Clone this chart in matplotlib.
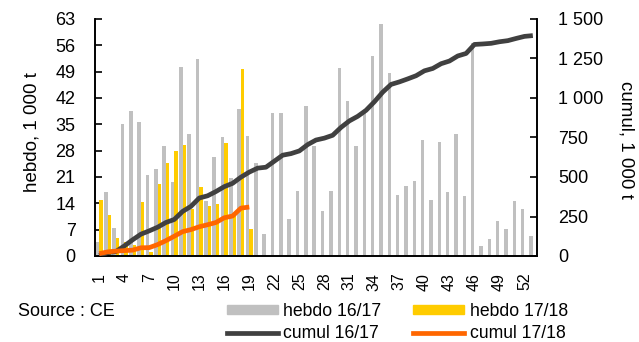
# -*- coding: utf-8 -*-
#
# Weekly volumes (hebdo) and cumulative totals (cumul), 16/17 vs 17/18.
#===============================================================================

import numpy as np
import matplotlib
matplotlib.use('Agg')
import matplotlib.pyplot as plt
from matplotlib.patches import Patch
from matplotlib.lines import Line2D

#===============================================================================
# Data (1 000 t)
#===============================================================================

weeks = list(range(1, 54))
week_ticks = list(range(1, 53, 3))

hebdo_1617 = [3.7, 17.0, 7.5, 35.1, 38.6, 35.7, 21.6, 23.2, 29.3, 19.7,
              50.3, 32.5, 52.4, 14.6, 26.4, 31.7, 20.8, 39.1, 31.9, 24.8,
              5.9, 38.1, 38.1, 9.8, 17.3, 39.9, 29.3, 12.0, 17.3, 50.0,
              41.3, 29.3, 38.1, 53.2, 61.8, 48.7, 16.2, 18.6, 20.0, 30.9,
              14.9, 30.3, 17.0, 32.5, 16.0, 56.7, 2.7, 4.5, 9.3, 7.2,
              14.6, 12.5, 5.3]

hebdo_1718 = [14.9, 10.9, 4.8, 3.7, 3.0, 14.4, 1.1, 19.2, 24.8, 27.9,
              29.5, 12.5, 18.4, 13.3, 13.8, 30.1, 10.6, 49.8, 7.2]

cumul_1617 = [4, 21, 28, 63, 102, 138, 159, 182, 212, 231,
              282, 314, 367, 381, 408, 439, 460, 499, 531, 556,
              562, 600, 638, 648, 665, 705, 734, 746, 764, 814,
              855, 884, 922, 976, 1037, 1086, 1102, 1121, 1141, 1172,
              1187, 1217, 1234, 1266, 1282, 1339, 1342, 1346, 1356, 1363,
              1377, 1390, 1395]

cumul_1718 = [15, 26, 31, 34, 37, 52, 53, 72, 97, 125,
              154, 167, 185, 198, 212, 242, 253, 303, 310]

hebdo_ticks = list(range(0, 64, 7))
cumul_ticks = list(range(0, 1501, 250))

#===============================================================================
# Plot
#===============================================================================

plt.rcParams['font.family'] = ['Liberation Sans', 'DejaVu Sans']
plt.rcParams['font.size'] = 13

GREY = '#c0c0c0'
YELLOW = '#ffcc00'
DARK = '#404040'
ORANGE = '#ff6600'

fig = plt.figure(figsize=(6.39, 3.42), dpi=100)
ax = fig.add_axes([95/639, 1 - 256/342, 442/639, 237/342])
ax2 = ax.twinx()

w = 0.42
x1 = np.array(weeks)
x2 = np.arange(1, len(hebdo_1718) + 1)
ax.bar(x1 - w/2, hebdo_1617, width=w, color=GREY, zorder=2)
ax.bar(x2 + w/2, hebdo_1718, width=w, color=YELLOW, zorder=2)

ax2.plot(x1, cumul_1617, color=DARK, linewidth=3.4, solid_capstyle='butt',
         zorder=3)
ax2.plot(x2, cumul_1718, color=ORANGE, linewidth=3.4, solid_capstyle='butt',
         zorder=4)

ax.set_xlim(0.5, 53.5)
ax.set_ylim(0, 63)
ax2.set_ylim(0, 1500)

ax.set_xticks(week_ticks)
ax.set_xticklabels([str(t) for t in week_ticks], rotation=90, fontsize=11.5)
ax.tick_params(axis='x', length=0, pad=12)

ax.set_yticks(hebdo_ticks)
ax.tick_params(axis='y', direction='in', length=5, width=1.2, pad=14)

ax2.set_yticks(cumul_ticks)
ax2.set_yticklabels(['{:,}'.format(t).replace(',', ' ') for t in cumul_ticks])
ax2.tick_params(axis='y', direction='in', length=5, width=1.2, pad=15)

for a in (ax, ax2):
    a.spines['top'].set_visible(False)
    for s in ('left', 'right', 'bottom'):
        a.spines[s].set_linewidth(1.2)
ax.set_zorder(ax2.get_zorder() - 1)
ax.patch.set_visible(False)

fig.text(32/639, 1 - 132/342, 'hebdo, 1 000 t', rotation=90,
         ha='center', va='center', fontsize=13.5)
fig.text(626/639, 1 - 140/342, 'cumul, 1 000 t', rotation=-90,
         ha='center', va='center', fontsize=13.5)

fig.text(18/639, 1 - 311/342, 'Source : CE', ha='left', va='center')

# legend: bars on the first row, cumulative lines on the second
handles = [Patch(color=GREY), Line2D([], [], color=DARK, linewidth=3.4),
           Patch(color=YELLOW), Line2D([], [], color=ORANGE, linewidth=3.4)]
labels = ['hebdo 16/17', 'cumul 16/17', 'hebdo 17/18', 'cumul 17/18']
fig.legend(handles, labels, ncol=2, loc='upper left', fontsize=12.7,
           bbox_to_anchor=(227/639, 1 - 303/342), frameon=False,
           borderpad=0, borderaxespad=0, handlelength=2.9, handleheight=0.45,
           handletextpad=0.3, columnspacing=1.8, labelspacing=0.3)

fig.savefig('out.png', dpi=100)
